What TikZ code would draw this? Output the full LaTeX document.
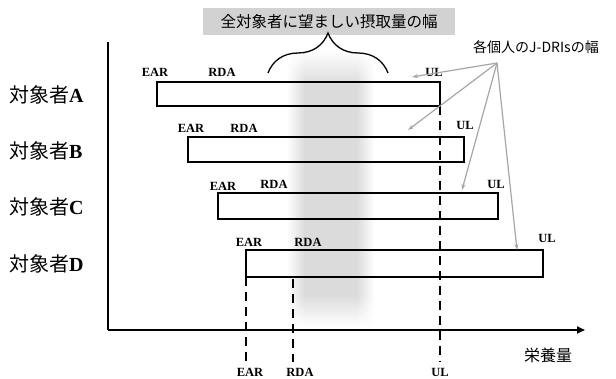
\documentclass[tikz,border=0pt]{standalone}
\usepackage{fontspec}
\setmainfont{Liberation Serif}
\newfontfamily\jp{Noto Sans CJK JP}
\usetikzlibrary{decorations.pathreplacing,arrows.meta}
\begin{document}
\begin{tikzpicture}[x=1pt,y=-1pt,
  bar/.style={draw,line width=1.8pt,inner sep=0pt,outer sep=0pt},
  lbl/.style={font=\bfseries\fontsize{12.5}{13}\selectfont,inner sep=0pt},
  rowlbl/.style={anchor=west,inner sep=0pt,font=\fontsize{20}{21}\selectfont},
  dline/.style={line width=1.8pt,dash pattern=on 9pt off 6pt},
  callout/.style={gray!70,line width=1.2pt,-{Stealth[length=6pt,width=4pt]}},
  axisline/.style={line width=1.8pt}]
\useasboundingbox (0,0) rectangle (616,379);
% gray band
\foreach \i in {0,...,44}{
  \pgfmathsetmacro{\xx}{286+2*\i}
  \pgfmathsetmacro{\kk}{max(0,28*min(1,(\xx-286)/18,(374-\xx)/18))}
  \shade[top color=white,bottom color=gray!\kk] (\xx,50) rectangle (\xx+2.4,85);
  \fill[gray!\kk] (\xx,84.6) rectangle (\xx+2.4,295.4);
  \shade[top color=gray!\kk,bottom color=white] (\xx,295) rectangle (\xx+2.4,326);
}
% title
\node[fill=gray!35,minimum width=252pt,minimum height=27pt,inner sep=0pt,font=\jp\fontsize{15.5}{16}\selectfont] (title) at (329,21.5) {全対象者に望ましい摂取量の幅};
\coordinate (bl) at (268,73);
\coordinate (br) at (388,73);
\draw[line width=1.3pt,decorate,decoration={brace,amplitude=40pt}] (bl) -- (br);
% axes
\coordinate (origin) at (108,330);
\coordinate (ytop) at (108,42);
\coordinate (xend) at (585,330);
\draw[axisline] (ytop) -- (origin);
\draw[axisline,-{Triangle[length=8pt,width=7pt]}] (origin) -- (xend);
\node[font=\jp\fontsize{16}{17}\selectfont,inner sep=0pt] (xlab) at (548,355) {栄養量};
% rows
\node[bar,minimum width=283pt,minimum height=24pt] (rA) at (298.5,94) {};
\node[bar,minimum width=276pt,minimum height=25pt] (rB) at (326,149.5) {};
\node[bar,minimum width=280pt,minimum height=26pt] (rC) at (358,206) {};
\node[bar,minimum width=297pt,minimum height=27pt] (rD) at (394.5,263.5) {};
\node[rowlbl] (nA) at (9,95) {{\jp 対象者}\textbf{A}};
\node[rowlbl] (nB) at (9,151) {{\jp 対象者}\textbf{B}};
\node[rowlbl] (nC) at (9,207) {{\jp 対象者}\textbf{C}};
\node[rowlbl] (nD) at (9,264) {{\jp 対象者}\textbf{D}};
\node[lbl] (eA) at (155,72) {EAR};
\node[lbl] (dA) at (222,72) {RDA};
\node[lbl] (uA) at (434,72) {UL};
\node[lbl] (eB) at (191,128) {EAR};
\node[lbl] (dB) at (244,128) {RDA};
\node[lbl] (uB) at (465,125) {UL};
\node[lbl] (eC) at (223,186) {EAR};
\node[lbl] (dC) at (274,184) {RDA};
\node[lbl] (uC) at (496,184) {UL};
\node[lbl] (eD) at (249,242) {EAR};
\node[lbl] (dD) at (308,242) {RDA};
\node[lbl] (uD) at (547,238) {UL};
% dashed lines
\coordinate (ulTop) at (440,106);
\coordinate (ulBot) at (440,362);
\coordinate (earTop) at (246,277);
\coordinate (earBot) at (246,362);
\coordinate (rdaTop) at (293,279);
\coordinate (rdaBot) at (293,362);
\draw[dline] (ulTop) -- (ulBot);
\draw[dline] (earTop) -- (earBot);
\draw[dline] (rdaTop) -- (rdaBot);
\node[lbl] (eBot) at (250,372) {EAR};
\node[lbl] (dBot) at (300,372) {RDA};
\node[lbl] (uBot) at (440,372) {UL};
% callout
\node[font=\jp\fontsize{14}{15}\selectfont,inner sep=0pt] (note) at (536,47) {各個人のJ-DRIsの幅};
\coordinate (src) at (497,63);
\coordinate (tA) at (412,77);
\coordinate (tB) at (408,130);
\coordinate (tC) at (462,190);
\coordinate (tD) at (517,250);
\draw[callout] (src) -- (tA);
\draw[callout] (src) -- (tB);
\draw[callout] (src) -- (tC);
\draw[callout] (src) -- (tD);
\end{tikzpicture}
\end{document}
